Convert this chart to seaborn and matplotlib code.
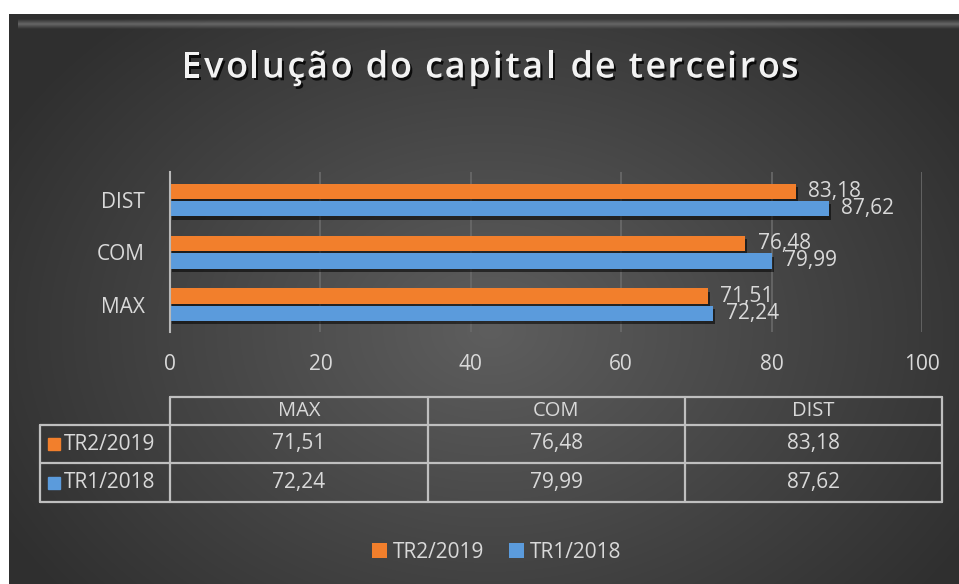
import numpy as np
import pandas as pd
import matplotlib
matplotlib.use("Agg")
import matplotlib.pyplot as plt
import matplotlib.patheffects as pe
from matplotlib.patches import Rectangle
import seaborn as sns

# ---- data ----
categories = ["DIST", "COM", "MAX"]
table_order = ["MAX", "COM", "DIST"]
series_names = ["TR2/2019", "TR1/2018"]
tr2_2019 = [83.18, 76.48, 71.51]
tr1_2018 = [87.62, 79.99, 72.24]
x_ticks = [0, 20, 40, 60, 80, 100]
title = "Evolução do capital de terceiros"

colors = {"TR2/2019": "#F27F2C", "TR1/2018": "#5B9BDC"}
txt = "#D9D9D9"

df = pd.DataFrame({
    "cat": categories * 2,
    "serie": [series_names[0]] * 3 + [series_names[1]] * 3,
    "val": tr2_2019 + tr1_2018,
})

def fmt(v):
    return f"{v:.2f}".replace(".", ",")

sns.set_theme(style="dark")
plt.rcParams["font.family"] = ["Open Sans", "DejaVu Sans"]

W, H = 959, 584
fig = plt.figure(figsize=(W / 100, H / 100), dpi=100)
fig.patch.set_facecolor("white")

# ---- background (radial gradient) ----
bg = fig.add_axes([0, 0, 1, 1], zorder=0)
bg.set_xlim(0, W)
bg.set_ylim(H, 0)
bg.axis("off")
yy, xx = np.mgrid[0:H, 0:W]
r = np.sqrt(((xx - 490) / 560.0) ** 2 + ((yy - 330) / 420.0) ** 2)
r = np.clip(r, 0, 1)
c0 = np.array([0x5e, 0x5e, 0x5e]) / 255
c1 = np.array([0x2f, 0x2f, 0x2f]) / 255
img = c0[None, None, :] * (1 - r[..., None]) + c1[None, None, :] * r[..., None]
# top bevel highlight
band = (yy >= 19) & (yy <= 28) & (xx >= 18)
prof = np.clip(1 - np.abs(yy - 23.5) / 5.0, 0, 1)
hl = np.array([0.40, 0.40, 0.40])
img[band] = hl * prof[band][:, None] + img[band] * (1 - prof[band][:, None])
mask = (xx < 9) | (yy < 14)
img[mask] = 1.0
img = np.clip(img, 0, 1)
bg.imshow(img, extent=(0, W, H, 0), aspect="auto", interpolation="bilinear")

# ---- main bar axes ----
ax = fig.add_axes([170 / W, 1 - 332 / H, (922 - 170) / W, (332 - 172) / H], zorder=2)
ax.set_facecolor("none")
sns.barplot(data=df, y="cat", x="val", hue="serie", order=categories,
            hue_order=series_names, palette=colors, orient="h", saturation=1,
            width=0.66, gap=0.12, ax=ax, legend=True, edgecolor="none")

for cont in ax.containers:
    for bar in cont:
        bar.set_path_effects([pe.SimplePatchShadow(offset=(1.5, -2.5), shadow_rgbFace="black", alpha=0.55),
                              pe.Normal()])
    ax.bar_label(cont, labels=[fmt(v) for v in cont.datavalues], padding=9,
                 color=txt, fontsize=15)

ax.set_xlim(0, 100)
ax.set_ylim(2.52, -0.53)
ax.set_xticks(x_ticks)
ax.set_xticklabels([str(t) for t in x_ticks])
ax.tick_params(axis="x", colors=txt, labelsize=15, length=0, pad=16)
ax.tick_params(axis="y", colors=txt, labelsize=15, length=0, pad=18)
ax.set_xlabel("")
ax.set_ylabel("")
for s in ["top", "right", "bottom"]:
    ax.spines[s].set_visible(False)
ax.spines["left"].set_visible(True)
ax.spines["left"].set_color("#B8B8B8")
ax.spines["left"].set_linewidth(1.5)
ax.grid(False)
for t in x_ticks[1:]:
    ax.axvline(t, color="#6A6A6A", lw=1.2, zorder=0)

handles, labels = ax.get_legend_handles_labels()
ax.get_legend().remove()

# ---- overlay in pixel coordinates ----
ov = fig.add_axes([0, 0, 1, 1], zorder=3)
ov.set_xlim(0, W)
ov.set_ylim(H, 0)
ov.axis("off")

# title with letter spacing
renderer = fig.canvas.get_renderer()
tkw = dict(fontsize=26, color="#F2F2F2", fontweight="semibold")
def text_w(s):
    t = ov.text(0, 0, s, **tkw)
    w = t.get_window_extent(renderer=renderer).width
    t.remove()
    return w
base = text_w("xx")
widths = [text_w("x" + c + "x") - base for c in title]
spacing = 2.6
total = sum(widths) + spacing * (len(title) - 1)
x = 490 - total / 2
for c, w in zip(title, widths):
    if c != " ":
        ov.text(x, 64, c, ha="left", va="center_baseline", **tkw,
                path_effects=[pe.withSimplePatchShadow(offset=(1.5, -2), shadow_rgbFace="black", alpha=0.8)])
    x += w + spacing

line_c = "#BFBFBF"
lw = 1.6
col_x = [170, 428, 685, 942]
row_y = [397, 425, 463, 502]
lab_x0 = 40
ov.plot([col_x[0], col_x[-1]], [row_y[0], row_y[0]], color=line_c, lw=lw)
for y in row_y[1:]:
    ov.plot([lab_x0, col_x[-1]], [y, y], color=line_c, lw=lw)
for xc in col_x:
    ov.plot([xc, xc], [row_y[0], row_y[-1]], color=line_c, lw=lw)
ov.plot([lab_x0, lab_x0], [row_y[1], row_y[-1]], color=line_c, lw=lw)

for j, cat in enumerate(table_order):
    cx = (col_x[j] + col_x[j + 1]) / 2
    ov.text(cx, (row_y[0] + row_y[1]) / 2, cat, ha="center", va="center",
            fontsize=14.5, color=txt)
series_vals = {series_names[0]: dict(zip(categories, tr2_2019)),
               series_names[1]: dict(zip(categories, tr1_2018))}
for i, sname in enumerate(series_names):
    cy = (row_y[i + 1] + row_y[i + 2]) / 2
    ov.add_patch(Rectangle((48, cy - 6), 12, 12, color=colors[sname]))
    ov.text(64, cy, sname, ha="left", va="center", fontsize=15, color=txt)
    for j, cat in enumerate(table_order):
        cx = (col_x[j] + col_x[j + 1]) / 2
        ov.text(cx, cy, fmt(series_vals[sname][cat]), ha="center", va="center",
                fontsize=15, color=txt)

# ---- legend ----
leg = fig.legend(handles, labels, loc="center", bbox_to_anchor=(497 / W, 1 - 552 / H),
                 ncol=2, frameon=False, fontsize=15, labelcolor=txt,
                 handlelength=0.7, handleheight=0.7, handletextpad=0.3, columnspacing=1.2)

fig.savefig("out.png", dpi=100, facecolor=fig.get_facecolor())
